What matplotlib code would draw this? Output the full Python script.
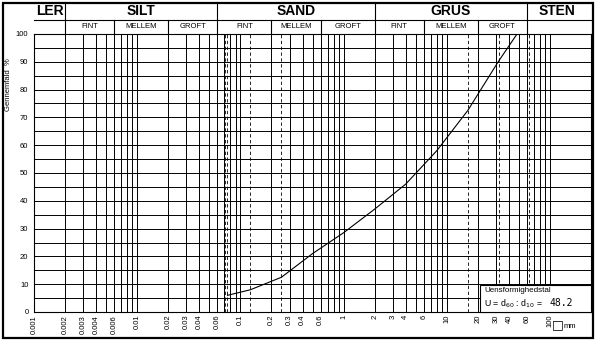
import numpy as np
import matplotlib
matplotlib.use('Agg')
import matplotlib.pyplot as plt
import matplotlib.transforms as mtransforms
from matplotlib.patches import Rectangle

plt.rcParams['font.family'] = ['Liberation Sans', 'DejaVu Sans']

# sieve curve (grain size mm, passing %)
grain_mm = [0.075, 0.125, 0.25, 0.5, 1, 2, 4, 8, 16, 31.5, 48]
passing = [6, 8, 12.5, 21, 28.5, 37, 46, 58, 72.5, 90, 100]

xtick_vals = [0.001, 0.002, 0.003, 0.004, 0.006, 0.01, 0.02, 0.03, 0.04, 0.06,
              0.1, 0.2, 0.3, 0.4, 0.6, 1, 2, 3, 4, 6, 10, 20, 30, 40, 60, 100]
dashed_vals = [0.071, 0.075, 0.125, 0.25, 16, 32, 63]

main_groups = ['LER', 'SILT', 'SAND', 'GRUS', 'STEN']
main_edges = [0.001, 0.002, 0.06, 2, 60, 250]
sub_names = ['FINT', 'MELLEM', 'GROFT']
sub_edges = {'SILT': [0.002, 0.006, 0.02, 0.06],
             'SAND': [0.06, 0.2, 0.6, 2],
             'GRUS': [2, 6, 20, 60]}
u_value = 48.2

W, H = 600, 343
fig = plt.figure(figsize=(6.0, 3.43), dpi=100)
ax = fig.add_axes([34 / W, 1 - 312 / H, (591 - 34) / W, 278 / H])
ax.set_xscale('log')
ax.set_xlim(0.001, 250)
ax.set_ylim(0, 100)

# grid
for e in range(-3, 2):
    for k in range(1, 10):
        ax.axvline(k * 10.0 ** e, color='black', lw=0.7, zorder=1)
ax.axvline(100, color='black', lw=0.7, zorder=1)
for yv in range(5, 100, 5):
    ax.axhline(yv, color='black', lw=0.7, zorder=1)
for v in dashed_vals:
    ax.axvline(v, color='black', lw=0.6, ls=(0, (4, 3)), zorder=1)

ax.plot(grain_mm, passing, color='black', lw=0.8, zorder=3)

ax.set_yticks(range(0, 101, 10))
ax.set_xticks(xtick_vals)
ax.set_xticklabels([f"{v:g}" for v in xtick_vals], rotation=90, fontsize=5.5)
ax.xaxis.set_minor_locator(matplotlib.ticker.NullLocator())
ax.tick_params(axis='both', length=0, labelsize=5.5)
ax.tick_params(axis='x', pad=2)
ax.tick_params(axis='y', pad=4)
for s in ax.spines.values():
    s.set_linewidth(0.8)

fig.text(9 / W, 1 - 85 / H, 'Gennemfald  %', rotation=90, fontsize=5.5,
         ha='center', va='center')

# header
tr = mtransforms.blended_transform_factory(ax.transData, ax.transAxes)
def ay(px):
    return (312 - px) / 278

y_top, y_mid, y_bot = ay(2.5), ay(20), ay(34)
ax.plot([0.001, 250], [y_mid, y_mid], color='black', lw=0.8,
        transform=tr, clip_on=False)
for e in main_edges[1:-1]:
    ax.plot([e, e], [y_bot, y_top], color='black', lw=0.8,
            transform=tr, clip_on=False)
for i, name in enumerate(main_groups):
    xc = np.sqrt(main_edges[i] * main_edges[i + 1])
    if name == 'STEN':
        xc = np.sqrt(60 * 230)
    ax.text(xc, ay(11.5), name, transform=tr, ha='center', va='center',
            fontsize=10, fontweight='bold')
for name, edges in sub_edges.items():
    for j in range(1, 3):
        ax.plot([edges[j], edges[j]], [y_bot, y_mid], color='black', lw=0.8,
                transform=tr, clip_on=False)
    for j, sn in enumerate(sub_names):
        xc = np.sqrt(edges[j] * edges[j + 1])
        ax.text(xc, ay(27), sn, transform=tr, ha='center', va='center',
                fontsize=5.5)

# uniformity box
fig.patches.append(Rectangle((480 / W, 1 - 312 / H), (591 - 480) / W, 27 / H,
                             transform=fig.transFigure, facecolor='white',
                             edgecolor='black', lw=0.8, zorder=5))
fig.text(484 / W, 1 - 291 / H, 'Uensformighedstal', fontsize=5.8,
         ha='left', va='center', zorder=6)
fig.text(484 / W, 1 - 304 / H, r'U = d$_{60}$ : d$_{10}$ =', fontsize=6.3,
         ha='left', va='center', zorder=6)
fig.text(573 / W, 1 - 303 / H, f'{u_value}', fontsize=7, family='DejaVu Sans Mono',
         ha='right', va='center', zorder=6)

fig.text(558 / W, 1 - 325 / H, '\u25a1', fontsize=9, family='DejaVu Sans',
         ha='center', va='center')
fig.text(564 / W, 1 - 326 / H, 'mm', fontsize=5.5, ha='left', va='center')

# outer frame
fig.patches.append(Rectangle((2.5 / W, 1 - 338 / H), 590 / W, 335.5 / H,
                             transform=fig.transFigure, fill=False,
                             edgecolor='black', lw=1.6))

fig.savefig('out.png', dpi=100)
